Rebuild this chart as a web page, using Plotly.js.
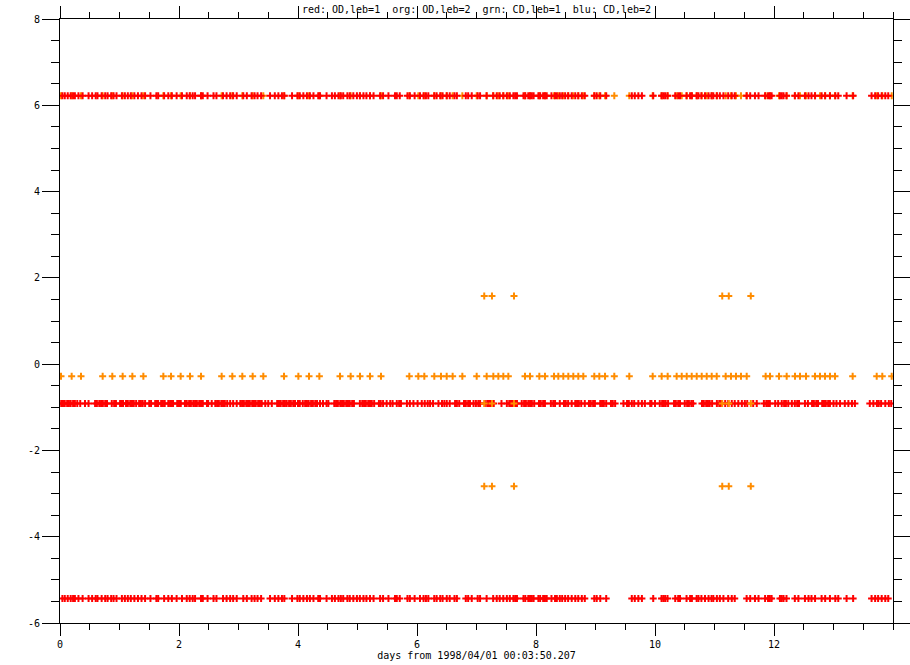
<!DOCTYPE html>
<html>
<head>
<meta charset="utf-8">
<script src="https://cdn.plot.ly/plotly-3.0.1.min.js"></script>
<style>html,body{margin:0;padding:0;background:#fff;}#chart{width:910px;height:665px;}</style>
</head>
<body>
<div id="chart"></div>
<script>
// ---- data (days from 1998/04/01 00:03:50.207) ----
const chartTitle = "red: OD,leb=1  org: OD,leb=2  grn: CD,leb=1  blu: CD,leb=2";
const xAxisTitle = "days from 1998/04/01 00:03:50.207";

// red (OD, leb=1): times present at the two outer levels
const redOuterX = [0.04,0.08,0.13,0.18,0.22,0.25,0.31,0.38,0.48,0.54,0.60,0.63,0.70,0.76,0.80,0.86,0.90,0.95,1.04,1.09,1.14,1.19,1.25,1.31,1.37,1.43,1.52,1.62,1.65,1.75,1.82,1.88,1.96,2.05,2.13,2.18,2.23,2.27,2.37,2.40,2.48,2.58,2.63,2.74,2.80,2.86,2.91,2.97,3.08,3.14,3.22,3.27,3.32,3.38,3.53,3.61,3.67,3.73,3.77,3.90,3.99,4.03,4.09,4.15,4.20,4.26,4.34,4.37,4.48,4.57,4.62,4.68,4.72,4.76,4.83,4.87,4.93,4.99,5.04,5.10,5.15,5.21,5.27,5.38,5.43,5.52,5.63,5.66,5.71,5.84,5.88,5.96,6.05,6.11,6.15,6.19,6.29,6.33,6.39,6.43,6.50,6.55,6.63,6.67,6.82,6.86,6.92,7.02,7.06,7.17,7.28,7.34,7.39,7.45,7.51,7.56,7.62,7.65,7.68,7.79,7.82,7.87,7.90,7.93,7.96,8.04,8.07,8.12,8.15,8.18,8.26,8.32,8.35,8.40,8.44,8.49,8.54,8.60,8.66,8.71,8.77,8.82,8.98,9.02,9.08,9.18,9.61,9.66,9.72,9.78,9.97,10.11,10.14,10.17,10.21,10.34,10.39,10.42,10.53,10.59,10.62,10.70,10.73,10.78,10.84,10.90,10.95,10.98,11.04,11.09,11.15,11.23,11.29,11.34,11.54,11.60,11.68,11.74,11.85,11.90,11.93,11.96,12.10,12.13,12.16,12.21,12.35,12.41,12.52,12.58,12.63,12.69,12.80,12.86,12.94,13.03,13.08,13.22,13.33,13.64,13.70,13.75,13.81,13.87,13.92];
const redUpperLevel = 6.22;
const redLowerLevel = -5.43;

// red (OD, leb=1): times at the middle level
const redMiddleX = [0.02,0.05,0.08,0.12,0.15,0.18,0.22,0.25,0.29,0.34,0.42,0.48,0.59,0.62,0.66,0.69,0.72,0.76,0.79,0.87,0.91,0.94,1.01,1.04,1.06,1.11,1.14,1.18,1.21,1.24,1.28,1.33,1.36,1.39,1.43,1.50,1.53,1.60,1.63,1.65,1.70,1.73,1.76,1.82,1.85,1.88,1.90,1.97,2.00,2.03,2.10,2.13,2.17,2.20,2.24,2.27,2.30,2.34,2.37,2.40,2.47,2.49,2.55,2.61,2.64,2.67,2.71,2.74,2.77,2.81,2.86,2.91,2.97,3.03,3.06,3.09,3.13,3.16,3.19,3.23,3.26,3.29,3.33,3.36,3.39,3.45,3.50,3.56,3.65,3.68,3.71,3.75,3.78,3.81,3.85,3.88,3.92,3.95,4.00,4.03,4.08,4.12,4.15,4.18,4.22,4.25,4.29,4.32,4.37,4.42,4.48,4.51,4.61,4.64,4.67,4.71,4.74,4.77,4.81,4.84,4.87,4.91,4.94,5.04,5.08,5.11,5.14,5.18,5.21,5.24,5.28,5.36,5.39,5.43,5.49,5.55,5.59,5.66,5.70,5.73,5.83,5.88,5.94,6.01,6.08,6.13,6.18,6.22,6.27,6.36,6.42,6.46,6.50,6.55,6.64,6.67,6.71,6.79,6.82,6.86,6.89,6.95,6.99,7.03,7.06,7.14,7.18,7.21,7.24,7.29,7.42,7.51,7.55,7.58,7.61,7.65,7.68,7.76,7.80,7.83,7.87,7.90,7.93,7.97,8.05,8.08,8.12,8.15,8.25,8.29,8.32,8.40,8.47,8.50,8.54,8.60,8.66,8.69,8.72,8.76,8.82,8.89,8.92,8.96,8.99,9.08,9.11,9.14,9.18,9.26,9.29,9.33,9.47,9.53,9.56,9.61,9.65,9.72,9.78,9.83,9.92,9.94,10.00,10.08,10.12,10.15,10.18,10.22,10.32,10.35,10.39,10.42,10.50,10.54,10.57,10.61,10.64,10.79,10.82,10.86,10.89,10.92,10.96,11.04,11.08,11.11,11.18,11.23,11.29,11.34,11.40,11.46,11.51,11.55,11.65,11.71,11.83,11.87,11.90,11.93,12.02,12.07,12.13,12.17,12.20,12.24,12.30,12.35,12.39,12.42,12.52,12.57,12.64,12.67,12.71,12.74,12.81,12.84,12.87,12.91,12.94,13.00,13.05,13.11,13.19,13.25,13.31,13.36,13.61,13.67,13.73,13.76,13.80,13.87,13.93,13.97];
const redMiddleLevel = -0.91;

// orange (OD, leb=2): times present at the upper and near-zero levels
const orangeX = [0.017,0.196,0.353,0.717,0.879,1.053,1.216,1.401,1.737,1.866,2.028,2.185,2.370,2.717,2.896,3.064,3.238,3.417,3.765,4.006,4.185,4.359,4.706,4.885,5.042,5.210,5.395,5.871,6.022,6.123,6.291,6.403,6.499,6.599,6.762,7.003,7.171,7.283,7.367,7.451,7.535,7.815,7.899,8.056,8.151,8.303,8.375,8.459,8.543,8.627,8.711,8.795,8.980,9.064,9.160,9.316,9.568,9.961,10.112,10.213,10.364,10.449,10.533,10.617,10.701,10.785,10.869,10.953,11.037,11.188,11.277,11.361,11.445,11.541,11.860,11.933,12.084,12.213,12.353,12.437,12.538,12.689,12.773,12.857,12.941,13.025,13.322,13.726,13.820,13.978];
const orangeUpperLevel = 6.22;
const orangeZeroLevel = -0.28;

// orange (OD, leb=2): six times with extra levels
const orangeSpecialX = [7.13, 7.26, 7.63, 11.13, 11.24, 11.61];
const orangeSpecialLevels = [1.58, -0.91, -2.83];

const xTickVals = [0, 2, 4, 6, 8, 10, 12];
const xTickText = ["0", "2", "4", "6", "8", "10", "12"];
const yTickVals = [-6, -4, -2, 0, 2, 4, 6, 8];
const yTickText = ["-6", "-4", "-2", "0", "2", "4", "6", "8"];

// ---- styling ----
const RED = "#ff0000";
const ORANGE = "#ff8c00";
const FONT = "DejaVu Sans Mono, Liberation Mono, monospace";

function crossTrace(xs, level, color) {
  return {
    type: "scatter",
    mode: "markers",
    x: xs,
    y: xs.map(() => level),
    marker: { symbol: "cross-thin", size: 5, color: color, line: { color: color, width: 2 } },
    hoverinfo: "skip",
    showlegend: false,
    cliponaxis: true
  };
}

const traces = [
  crossTrace(orangeX, orangeUpperLevel, ORANGE),
  crossTrace(orangeX, orangeZeroLevel, ORANGE),
  crossTrace(redOuterX, redUpperLevel, RED),
  crossTrace(redMiddleX, redMiddleLevel, RED),
  crossTrace(redOuterX, redLowerLevel, RED)
];
orangeSpecialLevels.forEach(lv => traces.push(crossTrace(orangeSpecialX, lv, ORANGE)));

const layout = {
  width: 910,
  height: 665,
  margin: { l: 60, r: 17, t: 19, b: 42, pad: 0 },
  paper_bgcolor: "#ffffff",
  plot_bgcolor: "#ffffff",
  font: { family: FONT, size: 10, color: "#000000" },
  showlegend: false,
  title: {
    text: chartTitle,
    font: { family: FONT, size: 10, color: "#000000" },
    x: 0.5, xref: "paper", xanchor: "center",
    y: 1 - 9 / 665, yref: "container", yanchor: "middle"
  },
  xaxis: {
    range: [0, 14],
    showgrid: false, zeroline: false,
    showline: true, linecolor: "#000", linewidth: 1, mirror: "ticks",
    ticks: "outside", ticklen: 12, tickwidth: 1, tickcolor: "#000",
    tickmode: "array", tickvals: xTickVals, ticktext: xTickText,
    tickfont: { family: FONT, size: 10, color: "#000" },
    minor: { ticks: "outside", ticklen: 6, tickwidth: 1, tickcolor: "#000", dtick: 0.5, tick0: 0, showgrid: false },
    title: { text: xAxisTitle, font: { family: FONT, size: 10, color: "#000" }, standoff: 2 },
    automargin: false
  },
  yaxis: {
    range: [-6, 8],
    showgrid: false, zeroline: false,
    showline: true, linecolor: "#000", linewidth: 1, mirror: "ticks",
    ticks: "outside", ticklen: 17, tickwidth: 1, tickcolor: "#000",
    tickmode: "array", tickvals: yTickVals, ticktext: yTickText,
    tickfont: { family: FONT, size: 10, color: "#000" },
    minor: { ticks: "outside", ticklen: 8, tickwidth: 1, tickcolor: "#000", dtick: 0.5, tick0: 0, showgrid: false },
    automargin: false
  }
};

Plotly.newPlot("chart", traces, layout, { displayModeBar: false, staticPlot: true });
</script>
</body>
</html>
